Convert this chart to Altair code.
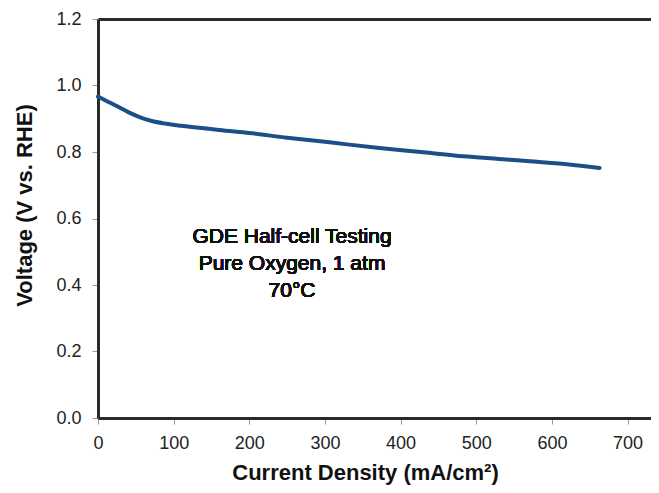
import altair as alt
import pandas as pd

current = [0, 10, 24, 40, 55, 70, 90, 110, 134, 160, 200, 250, 306, 372, 430, 483, 530, 571, 620, 663]
voltage = [0.967, 0.955, 0.939, 0.920, 0.905, 0.894, 0.885, 0.879, 0.873, 0.866, 0.857, 0.843, 0.829, 0.812, 0.799, 0.787, 0.779, 0.772, 0.763, 0.752]
x_ticks = [0, 100, 200, 300, 400, 500, 600, 700]
y_ticks = [0.0, 0.2, 0.4, 0.6, 0.8, 1.0, 1.2]
note = "GDE Half-cell Testing\n Pure Oxygen, 1 atm\n70°C"

df = pd.DataFrame({"I": current, "V": voltage})

FONT = "Liberation Sans"
xscale = alt.Scale(domain=[0, 731], nice=False, zero=False)
yscale = alt.Scale(domain=[0, 1.2], nice=False)

line = alt.Chart(df).mark_line(color="#1c4f87", strokeWidth=4, strokeCap="round",
                               interpolate="monotone").encode(
    x=alt.X("I:Q", scale=xscale,
            axis=alt.Axis(values=x_ticks, title="Current Density (mA/cm²)", grid=False,
                          domainColor="#2a2a2a", domainWidth=3, tickColor="#999999",
                          tickSize=6, tickWidth=1, labelFont=FONT, labelFontSize=18,
                          labelColor="#222222", labelPadding=10, labelFlush=False,
                          titleFont=FONT, titleFontSize=22, titleFontWeight="bold",
                          titleColor="#111111", titleBaseline="alphabetic", titleY=61,
                          titleX=267)),
    y=alt.Y("V:Q", scale=yscale,
            axis=alt.Axis(values=y_ticks, format=".1f", title="Voltage (V vs. RHE)", grid=False,
                          domainColor="#2a2a2a", domainWidth=3, tickColor="#999999",
                          tickSize=6, tickWidth=1, labelFont=FONT, labelFontSize=18,
                          labelColor="#222222", labelPadding=11, labelFlush=False,
                          titleFont=FONT, titleFontSize=22, titleFontWeight="bold",
                          titleColor="#111111", titleBaseline="middle", titleX=-74,
                          titleY=186, titleAngle=270)),
)

top = alt.Chart(df).mark_line(opacity=0).encode(
    x=alt.X("I:Q", scale=xscale,
            axis=alt.Axis(orient="top", title=None, labels=False, ticks=False, grid=False,
                          domainColor="#2a2a2a", domainWidth=3)),
    y=alt.Y("V:Q", scale=yscale),
)

text = alt.Chart(df).mark_text(
    text=note, lineBreak="\n", align="center", baseline="middle",
    font=FONT, fontSize=21, lineHeight=27, color="#111111"
).encode(x=alt.value(194), y=alt.value(218))

chart = alt.layer(line, top, text).resolve_axis(x="independent").properties(
    width=553, height=399,
    autosize=alt.AutoSizeParams(type="none"),
    padding={"left": 90, "top": 11, "right": 0, "bottom": 67},
).configure_view(stroke=None)

chart.save("out.html", embed_options={"renderer": "svg", "actions": False})
